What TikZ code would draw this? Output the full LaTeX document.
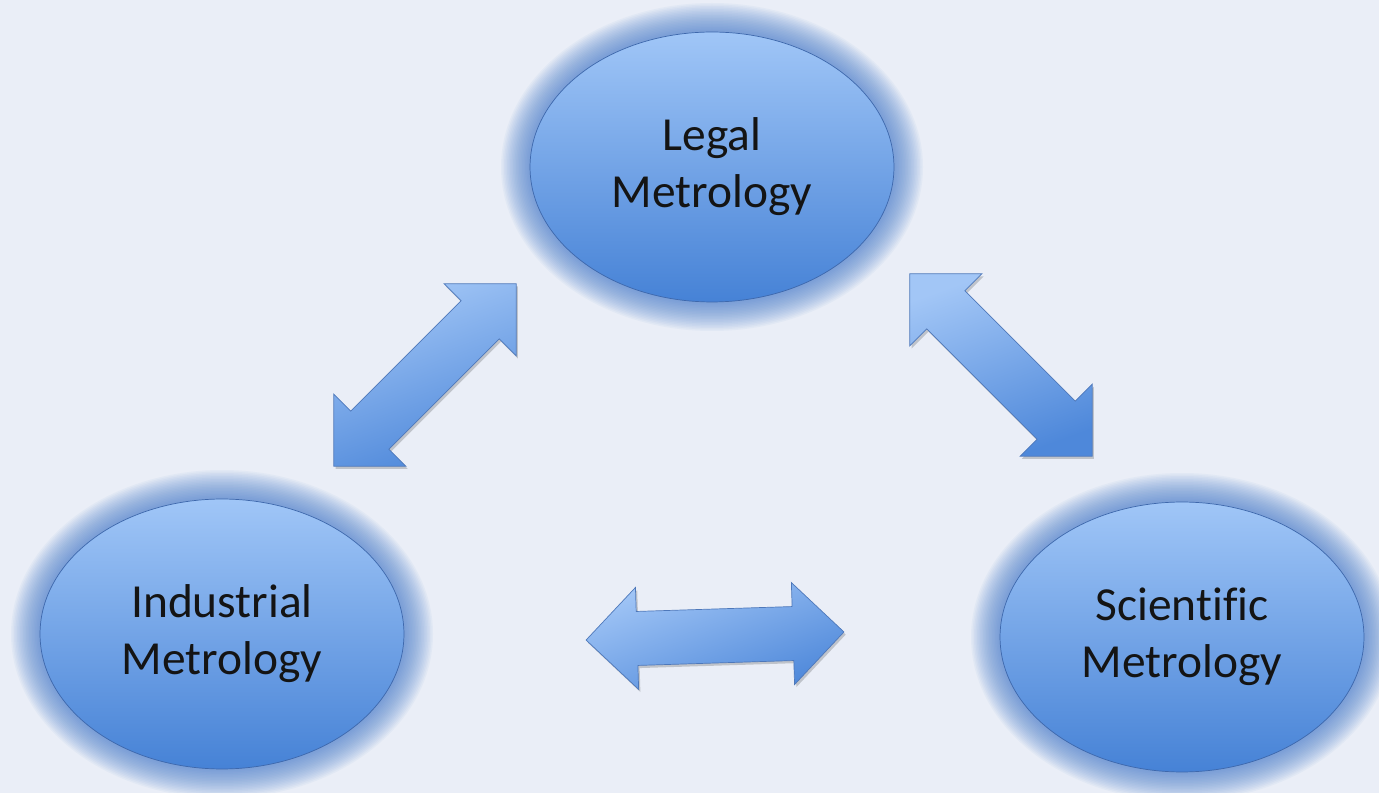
\documentclass[tikz,border=0pt]{standalone}
\usepackage{fontspec}
\setmainfont[Ligatures=NoCommon]{Carlito}
\usetikzlibrary{shapes.geometric,shadows}
\definecolor{bgblue}{RGB}{234,238,247}
\definecolor{balltop}{RGB}{160,198,247}
\definecolor{ballbot}{RGB}{70,130,214}
\definecolor{ballline}{RGB}{62,104,172}
\definecolor{glowblue}{RGB}{70,124,204}
\definecolor{arrtop}{RGB}{162,198,246}
\definecolor{arrbot}{RGB}{78,136,218}
\definecolor{arrline}{RGB}{78,120,186}

\begin{document}
\begin{tikzpicture}[x=0.02cm,y=-0.02cm,
  ball/.style={ellipse,draw=ballline,thin,top color=balltop,bottom color=ballbot,
    minimum width=7.28cm,minimum height=5.4cm,inner sep=0pt,align=center,
    font=\fontsize{27}{32.5}\selectfont,text=black!92},
  twoway/.pic={
    \draw[arrline,thin,top color=arrtop,bottom color=arrbot,shading angle=20,
      drop shadow={shadow xshift=1pt,shadow yshift=-1.5pt,opacity=0.18,fill=black}]
      (-129,0) -- (-78,51) -- (-78,27) -- (78,27) -- (78,51) -- (129,0)
      -- (78,-51) -- (78,-27) -- (-78,-27) -- (-78,-51) -- cycle;
  }]

% background
\fill[bgblue] (0,0) rectangle (1379,793);
\useasboundingbox (0,0) rectangle (1379,793);

% glow round the three ellipses
\foreach \cx/\cy in {712/167, 222/634, 1182/637}
  \foreach \g in {1,...,20}
    \fill[glowblue,opacity=0.05] (\cx,\cy) ellipse [x radius={(181+1.5*\g)*0.02cm}, y radius={(134+1.5*\g)*0.02cm}];

\node[ball] (legal) at (712,167) {Legal\\Metrology};
\node[ball] (industrial) at (222,634) {Industrial\\Metrology};
\node[ball] (scientific) at (1182,637) {Scientific\\Metrology};

% arrows
\pic[rotate=45] at (425,375) {twoway};
\pic[rotate=-45] at (1001,365) {twoway};
\pic[rotate=1.8] at (715,636) {twoway};

\end{tikzpicture}
\end{document}
